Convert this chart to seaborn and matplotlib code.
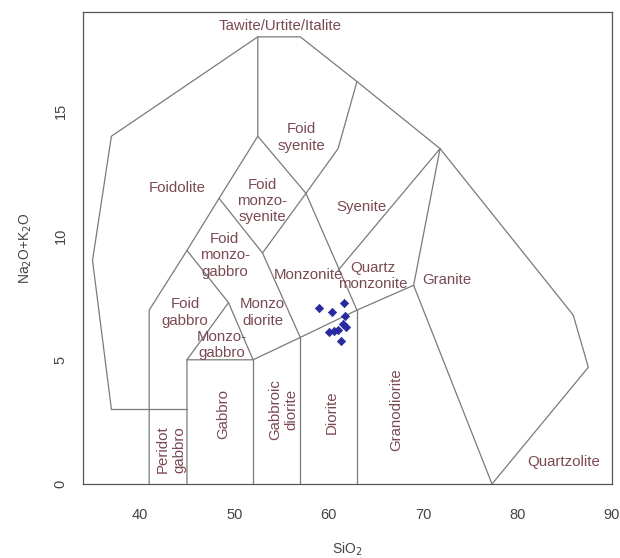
import matplotlib
matplotlib.use("Agg")
import matplotlib.pyplot as plt
import seaborn as sns
import pandas as pd

# field boundaries (SiO2, Na2O+K2O), Middlemost plutonic TAS
outer = [(37, 3), (35, 9), (37, 14), (52.5, 18), (57, 18), (63, 16.2),
         (71.8, 13.5), (85.9, 6.8), (87.5, 4.7), (77.3, 0)]
peridot_top = [(37, 3), (45, 3)]
foid_left = [(41, 0), (41, 7), (45, 9.4), (48.4, 11.5), (52.5, 14), (52.5, 18)]
foid_syenite_base = [(52.5, 14), (57.6, 11.7), (63, 7)]
foid_syenite_right = [(63, 16.2), (61, 13.5), (57.6, 11.7)]
monzosyenite_base = [(48.4, 11.5), (53, 9.3), (57, 5.9)]
monzosyenite_right = [(53, 9.3), (57.6, 11.7)]
monzogabbro_base = [(45, 9.4), (49.4, 7.3), (52, 5)]
monzogabbro_left = [(49.4, 7.3), (45, 5)]
main_line = [(45, 0), (45, 5), (52, 5), (57, 5.9), (63, 7), (69, 8), (71.8, 13.5)]
gabbro_right = [(52, 0), (52, 5)]
diorite_left = [(57, 0), (57, 5.9)]
diorite_right = [(63, 0), (63, 7)]
granite_left = [(69, 8), (77.3, 0)]
syenite_base = [(61, 8.6), (71.8, 13.5)]

boundaries = [outer, peridot_top, foid_left, foid_syenite_base, foid_syenite_right,
              monzosyenite_base, monzosyenite_right, monzogabbro_base, monzogabbro_left,
              main_line, gabbro_right, diorite_left, diorite_right, granite_left,
              syenite_base]

# field names: (label, x, y, rotation)
field_labels = [
    ("Tawite/Urtite/Italite", 54.9, 18.45, 0),
    ("Foidolite", 44.0, 11.9, 0),
    ("Foid\nsyenite", 57.1, 13.95, 0),
    ("Foid\nmonzo-\nsyenite", 53.0, 11.4, 0),
    ("Foid\nmonzo-\ngabbro", 49.0, 9.2, 0),
    ("Foid\ngabbro", 44.8, 6.9, 0),
    ("Monzo-\ngabbro", 48.7, 5.6, 0),
    ("Monzo\ndiorite", 53.0, 6.9, 0),
    ("Monzonite", 57.9, 8.4, 0),
    ("Syenite", 63.5, 11.15, 0),
    ("Quartz\nmonzonite", 64.7, 8.37, 0),
    ("Granite", 72.5, 8.2, 0),
    ("Quartzolite", 84.9, 0.9, 0),
    ("Granodiorite", 67.2, 3.0, 90),
    ("Diorite", 60.3, 2.9, 90),
    ("Gabbroic\ndiorite", 55.2, 3.0, 90),
    ("Gabbro", 48.8, 2.8, 90),
    ("Peridot\ngabbro", 43.3, 1.4, 90),
]

# samples
sio2 = [59.0, 60.4, 61.6, 61.7, 61.5, 61.8, 60.0, 60.6, 61.0, 61.3]
alkali = [7.07, 6.93, 7.27, 6.75, 6.45, 6.3, 6.1, 6.15, 6.2, 5.75]

sns.set_style("white")
plt.rcParams['font.family'] = ['Liberation Sans', 'DejaVu Sans']

fig = plt.figure(figsize=(6.2, 5.58), dpi=100)
ax = fig.add_axes([0.134, 0.1326, 0.853, 0.8459])

line_col = "#7a7a7a"
for seg in boundaries:
    df = pd.DataFrame(seg, columns=["x", "y"])
    sns.lineplot(data=df, x="x", y="y", sort=False, estimator=None,
                 color=line_col, linewidth=0.9, ax=ax)

for text, x, y, rot in field_labels:
    ax.text(x, y, text, ha="center", va="center", rotation=rot,
            fontsize=10.8, color="#7a4a52", linespacing=1.2)

pts = pd.DataFrame({"SiO2": sio2, "alk": alkali})
sns.scatterplot(data=pts, x="SiO2", y="alk", marker="D", s=18,
                color="#2a2aa0", edgecolor="#2a2aa0", linewidth=0.5, ax=ax, zorder=5)

ax.set_xlim(34, 90)
ax.set_ylim(0, 19)
ax.set_xticks([40, 50, 60, 70, 80, 90])
ax.set_yticks([0, 5, 10, 15])
ax.tick_params(direction="out", length=6, width=0.8, colors="#555555",
               labelsize=10.5, labelcolor="#444444")
ax.tick_params(axis="x", pad=11)
ax.tick_params(axis="y", pad=5)
for lab in ax.get_yticklabels():
    lab.set_rotation(90)
    lab.set_va("center")
for sp in ax.spines.values():
    sp.set_color("#555555")
    sp.set_linewidth(0.9)

ax.set_xlabel("SiO$_2$", fontsize=10, color="#444444", labelpad=14)
ax.set_ylabel("Na$_2$O+K$_2$O", fontsize=10, color="#444444", labelpad=14)

fig.savefig("out.png", dpi=100)
